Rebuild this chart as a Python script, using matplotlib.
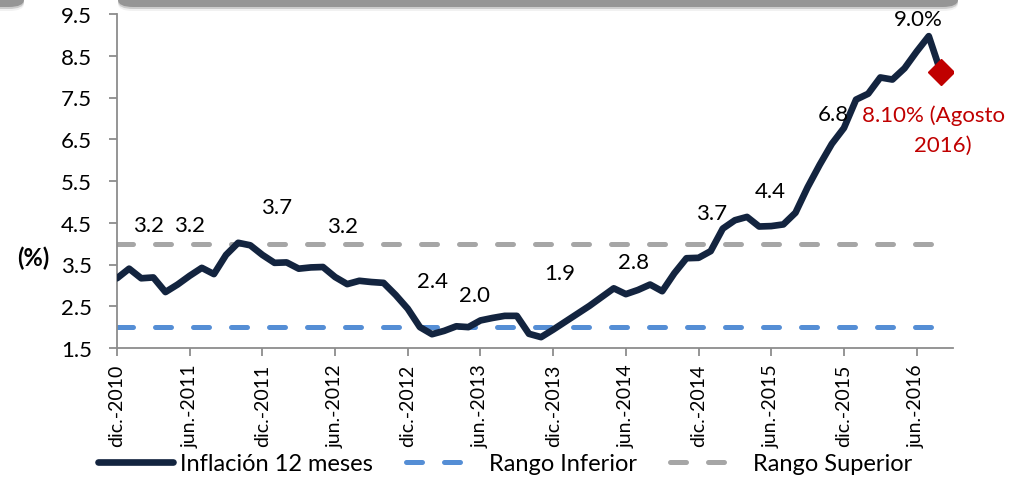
import matplotlib
matplotlib.use("Agg")
import matplotlib.pyplot as plt
from matplotlib.patches import FancyBboxPatch

# ================= DATOS =================
# inflacion 12 meses, dic-2010 .. ago-2016 (mensual)
inflacion = [3.17,
             3.40, 3.17, 3.19, 2.84, 3.02, 3.23, 3.42, 3.27, 3.73, 4.02, 3.96, 3.73,
             3.54, 3.55, 3.40, 3.43, 3.44, 3.20, 3.03, 3.11, 3.08, 3.06, 2.77, 2.44,
             2.00, 1.83, 1.91, 2.02, 2.00, 2.16, 2.22, 2.27, 2.27, 1.84, 1.76, 1.94,
             2.13, 2.32, 2.51, 2.72, 2.93, 2.79, 2.89, 3.02, 2.86, 3.29, 3.65, 3.66,
             3.82, 4.36, 4.56, 4.64, 4.41, 4.42, 4.46, 4.74, 5.35, 5.89, 6.39, 6.77,
             7.45, 7.59, 7.98, 7.93, 8.20, 8.60, 8.97, 8.10]
rango_inferior = 2.0
rango_superior = 4.0
tick_labels = ["dic.-2010", "jun.-2011", "dic.-2011", "jun.-2012", "dic.-2012",
               "jun.-2013", "dic.-2013", "jun.-2014", "dic.-2014", "jun.-2015",
               "dic.-2015", "jun.-2016"]
etiquetas = ["3.2", "3.2", "3.7", "3.2", "2.4", "2.0", "1.9", "2.8", "3.7", "4.4", "6.8", "9.0%"]
etiq_x = [2.6, 6.0, 13.2, 18.6, 26.0, 29.5, 36.5, 42.6, 49.1, 53.9, 59.1, 66.1]
etiq_y = [4.45, 4.45, 4.88, 4.42, 3.10, 2.77, 3.30, 3.56, 4.73, 5.26, 7.10, 9.38]

n = len(inflacion)
meses = list(range(n))

plt.rcParams['font.family'] = ['Lato', 'DejaVu Sans']

# ================= FIGURA =================
fig = plt.figure(figsize=(10.3, 4.81), dpi=100)
ax = fig.add_axes([117/1030, 1 - 349/481, (953-117)/1030, (349-15)/481])

# caja sombreada arriba (cortada)
for i, (a, c) in enumerate([(0.25, '#c8c8c8'), (0.5, '#a8a8a8'), (1.0, '#959595')]):
    off = (2 - i) * 2
    fig.patches.append(FancyBboxPatch((118/1030, 1 - (8 + off)/481), 840/1030, 40/481,
                                      boxstyle="round,pad=0,rounding_size=0.015",
                                      transform=fig.transFigure, fc=c, ec='none', alpha=a))
    fig.patches.append(FancyBboxPatch((-40/1030, 1 - (8 + off)/481), 64/1030, 40/481,
                                      boxstyle="round,pad=0,rounding_size=0.015",
                                      transform=fig.transFigure, fc=c, ec='none', alpha=a))

l_inf, = ax.plot(meses, [rango_inferior] * n, color='#558ED5', lw=3.6, dashes=(3.2, 4.4),
                 dash_capstyle='round', label='Rango Inferior', zorder=2)
l_sup, = ax.plot(meses, [rango_superior] * n, color='#A6A6A6', lw=3.6, dashes=(3.2, 4.4),
                 dash_capstyle='round', label='Rango Superior', zorder=2)
l_inf_12, = ax.plot(meses, inflacion, color='#13243F', lw=4.8, solid_joinstyle='round',
                    solid_capstyle='round', label='Inflación 12 meses', zorder=3)
ax.plot([meses[-1]], [inflacion[-1]], marker='D', color='#C00000', ms=13, zorder=4)

for t, x, y in zip(etiquetas, etiq_x, etiq_y):
    ax.text(x, y, t, ha='center', va='center', fontsize=16, color='black')
ax.text(67.36, 7.08, "8.10% (Agosto", ha='center', va='center', fontsize=16, color='#C00000')
ax.text(68.18, 6.36, "2016)", ha='center', va='center', fontsize=16, color='#C00000')

ax.set_xlim(0, 69)
ax.set_ylim(1.5, 9.5)
ax.set_yticks([1.5 + i for i in range(9)])
ax.set_yticklabels([f"{1.5 + i:.1f}" for i in range(9)], fontsize=16)
ax.set_xticks(list(range(0, 67, 6)))
ax.set_xticklabels(tick_labels, rotation=90, fontsize=14)
for s in ['top', 'right']:
    ax.spines[s].set_visible(False)
for s in ['left', 'bottom']:
    ax.spines[s].set_color('#8c8c8c')
    ax.spines[s].set_linewidth(1.3)
ax.tick_params(axis='both', color='#8c8c8c', length=6, width=1.3, pad=5)
ax.tick_params(axis='y', pad=12)

fig.text(33/1030, 1 - 258/481, "(%)", fontsize=17, fontweight='bold', ha='center', va='center')

fig.legend(handles=[l_inf_12, l_inf, l_sup], loc='center', bbox_to_anchor=(0.49, 1 - 465/481),
           ncol=3, frameon=False, fontsize=17, handlelength=3.2, columnspacing=1.4,
           handletextpad=0.3)

fig.savefig("out.png", dpi=100)
